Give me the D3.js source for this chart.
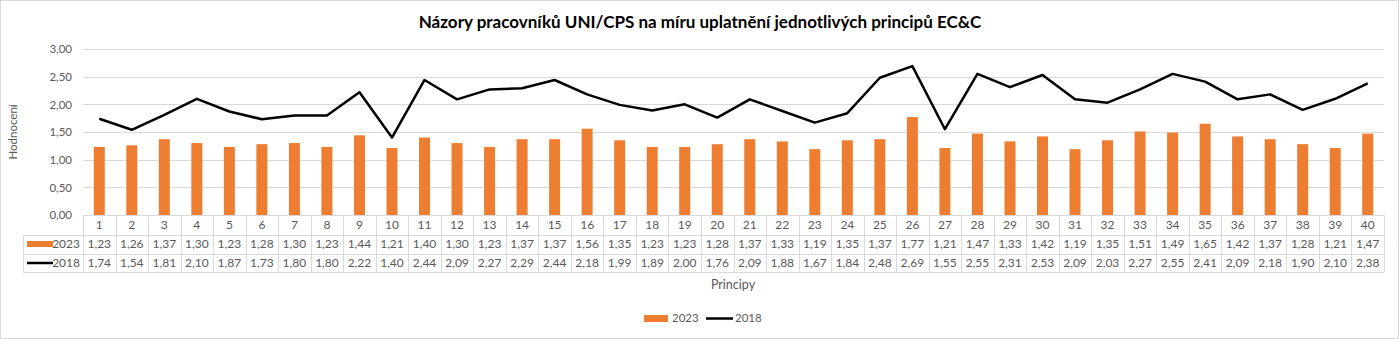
<!DOCTYPE html>
<html><head><meta charset="utf-8">
<script src="https://cdn.jsdelivr.net/npm/d3@7"></script>
<style>body{margin:0;background:#fff}svg{display:block}text{font-family:Lato,"Open Sans",sans-serif}</style>
</head><body><svg id="c" width="1399" height="339"></svg>
<script>
const categories = d3.range(1, 41).map(String);
const values2023 = [1.23,1.26,1.37,1.30,1.23,1.28,1.30,1.23,1.44,1.21,1.40,1.30,1.23,1.37,1.37,1.56,1.35,1.23,1.23,1.28,1.37,1.33,1.19,1.35,1.37,1.77,1.21,1.47,1.33,1.42,1.19,1.35,1.51,1.49,1.65,1.42,1.37,1.28,1.21,1.47];
const values2018 = [1.74,1.54,1.81,2.10,1.87,1.73,1.80,1.80,2.22,1.40,2.44,2.09,2.27,2.29,2.44,2.18,1.99,1.89,2.00,1.76,2.09,1.88,1.67,1.84,2.48,2.69,1.55,2.55,2.31,2.53,2.09,2.03,2.27,2.55,2.41,2.09,2.18,1.90,2.10,2.38];
const yTicks = [0,0.5,1,1.5,2,2.5,3];
const seriesNames = ["2023","2018"];
const colors = {"2023":"#ED7D31","2018":"#000000"};

const svg = d3.select("#c");
const fmt = v => d3.format(".2f")(v).replace(".", ",");
const L = 83, R = 1384, T = 49, B = 215;
const x = d3.scaleBand().domain(categories).range([L, R]);
const y = d3.scaleLinear().domain([0, 3]).range([B, T]);
const grid = "#D9D9D9", txt = "#595959";

svg.append("rect").attr("x",0.5).attr("y",0.5).attr("width",1398).attr("height",338).attr("fill","#fff").attr("stroke",grid);

svg.append("text").attr("x",700).attr("y",28).attr("text-anchor","middle")
  .attr("font-size",17).attr("font-weight","bold").attr("fill","#000")
  .text("Názory pracovníků UNI/CPS na míru uplatnění jednotlivých principů EC&C");

// gridlines
svg.append("g").selectAll("line").data(yTicks).join("line")
  .attr("x1",L).attr("x2",R).attr("y1",d=>Math.round(y(d))+0.5).attr("y2",d=>Math.round(y(d))+0.5)
  .attr("stroke",grid);

// y axis labels
const yAxis = d3.axisLeft(y).tickValues(yTicks).tickFormat(fmt).tickSize(0).tickPadding(11);
const ga = svg.append("g").attr("transform",`translate(${L},0)`).call(yAxis);
ga.select(".domain").remove();
ga.selectAll("text").attr("font-size",11.5).attr("fill",txt).attr("font-family","Lato,sans-serif");

svg.append("text").attr("transform",`translate(17,${(T+B)/2}) rotate(-90)`).attr("text-anchor","middle")
  .attr("font-size",11.5).attr("fill",txt).text("Hodnocení");

// bars
const bw = 11;
svg.append("g").selectAll("rect").data(values2023).join("rect")
  .attr("x",(d,i)=>x(categories[i])+x.bandwidth()/2-bw/2).attr("width",bw)
  .attr("y",d=>y(d)).attr("height",d=>B-y(d)).attr("fill",colors["2023"]);

// line
const line = d3.line().x((d,i)=>x(categories[i])+x.bandwidth()/2).y(d=>y(d));
svg.append("path").datum(values2018).attr("d",line).attr("fill","none")
  .attr("stroke",colors["2018"]).attr("stroke-width",2.5).attr("stroke-linejoin","round");

// data table
const rows = [B, 235, 254, 272];
const tg = svg.append("g");
const hl = (x1,x2,yy)=>tg.append("line").attr("x1",x1).attr("x2",x2).attr("y1",yy+0.5).attr("y2",yy+0.5).attr("stroke",grid);
hl(L,R,rows[0]); hl(23,R,rows[1]); hl(23,R,rows[2]); hl(23,R,rows[3]);
const vx = categories.map(c=>x(c)).concat([R]);
vx.forEach(v=>tg.append("line").attr("x1",Math.round(v)+0.5).attr("x2",Math.round(v)+0.5).attr("y1",rows[0]).attr("y2",rows[3]).attr("stroke",grid));
tg.append("line").attr("x1",23.5).attr("x2",23.5).attr("y1",rows[1]).attr("y2",rows[3]).attr("stroke",grid);

const cx = c => x(c)+x.bandwidth()/2;
const fs = 12;
tg.selectAll("text.cat").data(categories).join("text").attr("class","cat")
  .attr("x",cx).attr("y",229).attr("text-anchor","middle").attr("font-size",fs).attr("fill",txt).text(d=>d);
tg.selectAll("text.v23").data(values2023).join("text").attr("class","v23")
  .attr("x",(d,i)=>cx(categories[i])).attr("y",248).attr("text-anchor","middle").attr("font-size",fs).attr("fill",txt).text(fmt);
tg.selectAll("text.v18").data(values2018).join("text").attr("class","v18")
  .attr("x",(d,i)=>cx(categories[i])).attr("y",267).attr("text-anchor","middle").attr("font-size",fs).attr("fill",txt).text(fmt);

// table legend keys
tg.append("rect").attr("x",27).attr("y",241).attr("width",26).attr("height",6).attr("fill",colors["2023"]);
tg.append("text").attr("x",80).attr("y",248).attr("text-anchor","end").attr("font-size",fs).attr("fill",txt).text("2023");
tg.append("line").attr("x1",27).attr("x2",53).attr("y1",263).attr("y2",263).attr("stroke","#000").attr("stroke-width",2.5);
tg.append("text").attr("x",80).attr("y",267).attr("text-anchor","end").attr("font-size",fs).attr("fill",txt).text("2018");

svg.append("text").attr("x",733).attr("y",289).attr("text-anchor","middle").attr("font-size",12.5).attr("fill",txt).text("Principy");

// legend
const lg = svg.append("g");
lg.append("rect").attr("x",644).attr("y",315).attr("width",24).attr("height",7).attr("fill",colors["2023"]);
lg.append("text").attr("x",672).attr("y",322).attr("font-size",11.5).attr("fill",txt).text(seriesNames[0]);
lg.append("line").attr("x1",706).attr("x2",733).attr("y1",318.5).attr("y2",318.5).attr("stroke","#000").attr("stroke-width",2.5);
lg.append("text").attr("x",735).attr("y",322).attr("font-size",11.5).attr("fill",txt).text(seriesNames[1]);
</script></body></html>
